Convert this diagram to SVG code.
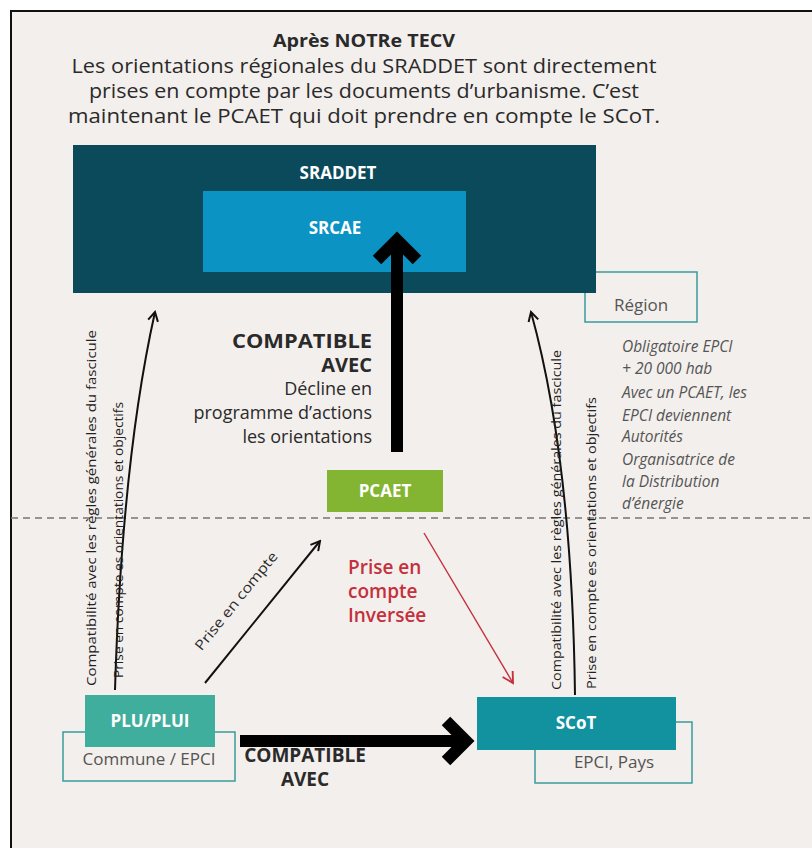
<svg xmlns="http://www.w3.org/2000/svg" width="812" height="848" viewBox="0 0 812 848">
<defs>
<style>
.t{font-family:"Open Sans","Liberation Sans",sans-serif;fill:#2a2a2a}
.w{font-family:"Open Sans","Liberation Sans",sans-serif;fill:#ffffff;font-weight:700;text-anchor:middle}
.g{font-family:"Open Sans","Liberation Sans",sans-serif;fill:#555;text-anchor:middle}
.it{font-family:"Open Sans","Liberation Sans",sans-serif;fill:#555;font-style:italic;font-size:15.5px}
.rot{font-family:"Open Sans","Liberation Sans",sans-serif;fill:#222;font-size:13px;text-anchor:middle}
.red{font-family:"Open Sans","Liberation Sans",sans-serif;fill:#c4303c;font-size:19px;font-weight:600}
.outline{fill:none;stroke:#3a9c9c;stroke-width:1.5}
.thin{fill:none;stroke:#111;stroke-width:2}
.big{fill:none;stroke:#000;stroke-width:12}
</style>
<marker id="open" viewBox="0 0 12 12" refX="10" refY="6" markerWidth="12" markerHeight="12" markerUnits="userSpaceOnUse" orient="auto">
<path d="M1,1 L10,6 L1,11" fill="none" stroke="#111" stroke-width="2"/>
</marker>
<marker id="openr" viewBox="0 0 12 12" refX="10" refY="6" markerWidth="14" markerHeight="14" markerUnits="userSpaceOnUse" orient="auto">
<path d="M1,1 L10,6 L1,11" fill="none" stroke="#c4303c" stroke-width="1.6"/>
</marker>
</defs>
<rect x="0" y="0" width="812" height="848" fill="#ffffff"/>
<rect x="11" y="11" width="810" height="850" fill="#f3efec" stroke="#111" stroke-width="2"/>

<g id="title">
<text class="t" x="364" y="47" font-size="18" font-weight="700" text-anchor="middle" textLength="182" lengthAdjust="spacingAndGlyphs">Après NOTRe TECV</text>
<text class="t" x="364" y="73" font-size="19.5" text-anchor="middle" textLength="585" lengthAdjust="spacingAndGlyphs">Les orientations régionales du SRADDET sont directement</text>
<text class="t" x="364" y="98" font-size="19.5" text-anchor="middle" textLength="550" lengthAdjust="spacingAndGlyphs">prises en compte par les documents d’urbanisme. C’est</text>
<text class="t" x="364" y="123" font-size="19.5" text-anchor="middle" textLength="592" lengthAdjust="spacingAndGlyphs">maintenant le PCAET qui doit prendre en compte le SCoT.</text>
</g>

<g id="region">
<rect class="outline" x="585" y="272" width="112" height="50"/>
<text class="g" x="641" y="311" font-size="17">Région</text>
</g>

<g id="sraddet">
<rect x="73" y="145" width="523" height="148" fill="#0b4a5b"/>
<text class="w" x="338" y="179" font-size="17">SRADDET</text>
</g>

<g id="srcae">
<rect x="203" y="191" width="263" height="81" fill="#0b93c4"/>
<text class="w" x="335" y="234" font-size="17">SRCAE</text>
</g>

<g id="note">
<text class="it" x="622" y="352">Obligatoire EPCI</text>
<text class="it" x="622" y="374">+ 20 000 hab</text>
<text class="it" x="622" y="398">Avec un PCAET, les</text>
<text class="it" x="622" y="421">EPCI deviennent</text>
<text class="it" x="622" y="442">Autorités</text>
<text class="it" x="622" y="465">Organisatrice de</text>
<text class="it" x="622" y="487">la Distribution</text>
<text class="it" x="622" y="509">d’énergie</text>
</g>

<line x1="11" y1="518" x2="812" y2="518" stroke="#777" stroke-width="1.3" stroke-dasharray="7,5"/>

<g id="connectors">
<path class="big" d="M397,452 L397,242"/>
<path class="big" d="M377,260 L397,240 L417,260" stroke-linejoin="miter"/>
<path class="big" d="M240,741 L464,741"/>
<path class="big" d="M446,721 L466,741 L446,761" stroke-linejoin="miter"/>
<path class="thin" d="M115,690 Q122,460 155,312" marker-end="url(#open)"/>
<path class="thin" d="M575,695 Q572,460 531,312" marker-end="url(#open)"/>
<path class="thin" d="M205,683 L320,541" marker-end="url(#open)" stroke-width="1.8"/>
<path d="M424,533 L513,683" fill="none" stroke="#c4303c" stroke-width="1.4" marker-end="url(#openr)"/>
</g>

<g id="labels">
<text class="t" x="372" y="348" font-size="20" font-weight="700" text-anchor="end" textLength="140" lengthAdjust="spacingAndGlyphs">COMPATIBLE</text>
<text class="t" x="372" y="372" font-size="20" font-weight="700" text-anchor="end">AVEC</text>
<text class="t" x="372" y="395" font-size="18" text-anchor="end">Décline en</text>
<text class="t" x="372" y="419" font-size="18" text-anchor="end">programme d’actions</text>
<text class="t" x="372" y="443" font-size="18" text-anchor="end">les orientations</text>
<text class="red" x="348" y="574">Prise en</text>
<text class="red" x="348" y="598">compte</text>
<text class="red" x="348" y="622">Inversée</text>
<text class="t" x="240" y="604" font-size="14" text-anchor="middle" textLength="122" lengthAdjust="spacingAndGlyphs" transform="rotate(-51 240 604)">Prise en compte</text>
<text class="t" x="305" y="762" font-size="19" font-weight="700" text-anchor="middle">COMPATIBLE</text>
<text class="t" x="305" y="786" font-size="19" font-weight="700" text-anchor="middle">AVEC</text>
<text class="rot" x="0" y="0" textLength="356" lengthAdjust="spacingAndGlyphs" transform="translate(96 508) rotate(-90)">Compatibilité avec les règles générales du fascicule</text>
<text class="rot" x="0" y="0" textLength="276" lengthAdjust="spacingAndGlyphs" transform="translate(123 540) rotate(-90)">Prise en compte es orientations et objectifs</text>
<text class="rot" x="0" y="0" textLength="340" lengthAdjust="spacingAndGlyphs" transform="translate(561 520) rotate(-90)">Compatibilité avec les règles générales du fascicule</text>
<text class="rot" x="0" y="0" textLength="292" lengthAdjust="spacingAndGlyphs" transform="translate(596 543) rotate(-90)">Prise en compte es orientations et objectifs</text>
</g>

<g id="pcaet">
<rect x="327" y="470" width="116" height="42" fill="#84b532"/>
<text class="w" x="385" y="497" font-size="17">PCAET</text>
</g>

<g id="commune">
<rect class="outline" x="63" y="732" width="172" height="49"/>
<text class="g" x="149" y="765" font-size="17">Commune / EPCI</text>
</g>

<g id="plu">
<rect x="85" y="695" width="130" height="52" fill="#3fae9c"/>
<text class="w" x="150" y="727" font-size="17">PLU/PLUI</text>
</g>

<g id="epci">
<rect class="outline" x="535" y="722" width="157" height="61"/>
<text class="g" x="614" y="768" font-size="17">EPCI, Pays</text>
</g>

<g id="scot">
<rect x="477" y="697" width="199" height="53" fill="#12929f"/>
<text class="w" x="576" y="729" font-size="17">SCoT</text>
</g>
</svg>
